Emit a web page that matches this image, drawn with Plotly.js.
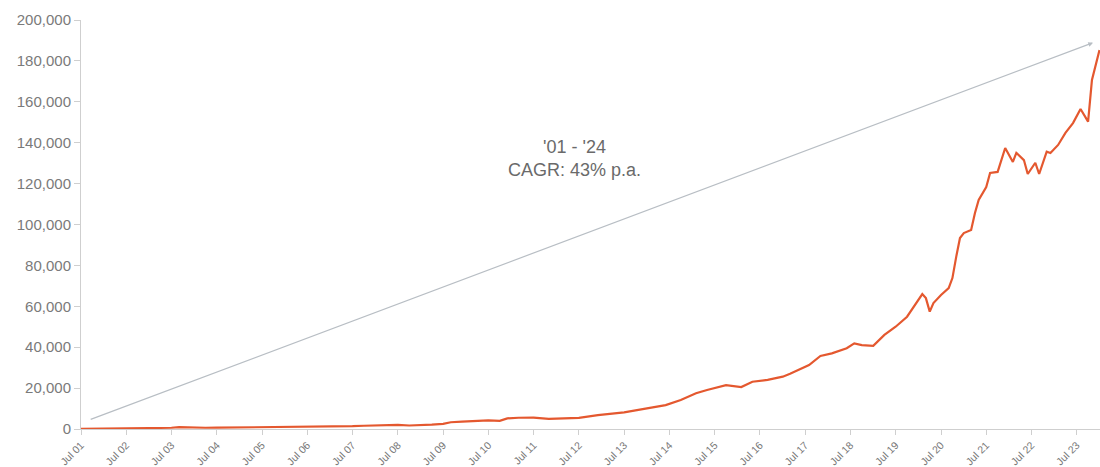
<!DOCTYPE html>
<html>
<head>
<meta charset="utf-8">
<script src="https://cdn.plot.ly/plotly-3.0.1.min.js"></script>
<style>html,body{margin:0;padding:0;background:#fff;}#chart{width:1100px;height:467px;}</style>
</head>
<body>
<div id="chart"></div>
<script>
const dates = [
"2001-07","2001-10","2002-01","2002-04","2002-07","2002-10","2003-01","2003-04","2003-07","2003-09","2003-12",
"2004-04","2004-07","2004-10","2005-01","2005-04","2005-07","2005-10","2006-01","2006-04","2006-07","2006-10",
"2007-01","2007-04","2007-07","2007-10","2008-01","2008-04","2008-07","2008-10","2009-01","2009-04","2009-07",
"2009-09","2009-12","2010-03","2010-07","2010-10","2010-12","2011-03","2011-07","2011-11","2012-03","2012-07",
"2012-12","2013-07","2014-01","2014-06","2014-10","2015-02","2015-05","2015-07","2015-10","2016-02","2016-05",
"2016-09","2017-01","2017-03","2017-05","2017-08","2017-11","2018-02","2018-06","2018-08","2018-10","2019-01",
"2019-04","2019-07","2019-10","2019-12","2020-02","2020-03","2020-04","2020-05","2020-07","2020-09","2020-10",
"2020-11","2020-12","2021-01","2021-03","2021-04","2021-05","2021-07","2021-08","2021-10","2021-12","2022-02",
"2022-03","2022-05","2022-06","2022-08","2022-09","2022-11","2022-12","2023-02","2023-04","2023-06","2023-08",
"2023-10","2023-11","2024-01"
];
const values = [
100,150,250,300,350,300,400,500,600,900,700,
600,650,700,750,700,800,900,1000,1100,1000,1100,
1200,1300,1400,1600,1800,1900,2000,1700,1800,2100,2500,
3300,3600,3800,4200,4000,5200,5500,5600,5000,5300,5400,
6800,8100,10100,11700,14200,17500,19100,20000,21400,20500,23100,
24000,25600,27000,28800,31300,35700,37000,39500,41900,41000,40700,
46000,50000,54900,60600,66000,64000,57400,61600,65500,68900,73800,
84300,93400,95800,97300,105600,112000,118300,125200,125700,137400,130600,
135000,131500,124700,130200,124700,135600,135000,138900,144800,149600,156500,
150300,170700,185300
];
const yTickVals = [0,20000,40000,60000,80000,100000,120000,140000,160000,180000,200000];
const arrowStart = ["2001-09-05", 4400];
const arrowEnd = ["2023-11-10", 188900];
const labelPos = ["2012-05-28", 132500];
const labelText = "'01 - '24<br>CAGR: 43% p.a.";

const trace = {
  x: dates, y: values, type: 'scatter', mode: 'lines',
  line: {color: '#E4582F', width: 2.2}, hoverinfo: 'x+y'
};
const layout = {
  width: 1100, height: 467,
  margin: {l: 81, r: 0, t: 20, b: 38},
  paper_bgcolor: '#fff', plot_bgcolor: '#fff',
  showlegend: false,
  font: {family: 'Arial, "Liberation Sans", sans-serif', color: '#666'},
  xaxis: {
    type: 'date', range: ['2001-07-01', '2024-01-05'],
    tick0: '2001-07-01', dtick: 'M12', tickformat: '%b %y',
    tickangle: -45, tickfont: {size: 10.5, color: '#777'},
    showgrid: false, zeroline: false,
    showline: true, linecolor: '#cfcfcf', linewidth: 1,
    ticks: 'outside', ticklen: 5, tickcolor: '#cfcfcf'
  },
  yaxis: {
    range: [0, 200000], tickvals: yTickVals, tickformat: ',d',
    tickfont: {size: 15, color: '#7a7a7a'},
    showgrid: false, zeroline: false,
    showline: true, linecolor: '#cfcfcf', linewidth: 1,
    ticks: 'outside', ticklen: 6, tickcolor: '#cfcfcf'
  },
  annotations: [
    {
      x: arrowEnd[0], y: arrowEnd[1], xref: 'x', yref: 'y',
      ax: arrowStart[0], ay: arrowStart[1], axref: 'x', ayref: 'y',
      showarrow: true, arrowhead: 2, arrowsize: 0.8, arrowwidth: 1.2,
      arrowcolor: '#b8bec4', text: ''
    },
    {
      x: labelPos[0], y: labelPos[1], xref: 'x', yref: 'y',
      text: labelText, showarrow: false,
      font: {size: 18, color: '#6a6a6a'}, align: 'center'
    }
  ]
};
Plotly.newPlot('chart', [trace], layout, {displayModeBar: false, staticPlot: true});
</script>
</body>
</html>
